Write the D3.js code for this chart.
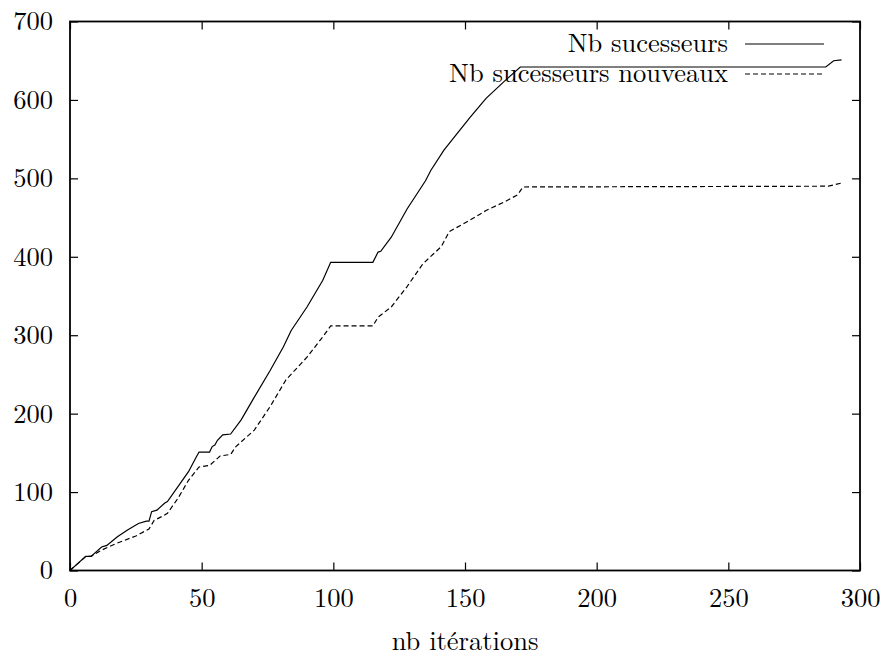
<!DOCTYPE html>
<html lang="fr">
<head>
<meta charset="utf-8">
<title>Nb sucesseurs</title>
<style>
body { margin: 0; background: #fff; }
.axis path.domain { display: none; }
.axis line { stroke: #000; stroke-width: 1.2; }
.frame { fill: none; stroke: #000; stroke-width: 1.8; }
.curve { fill: none; stroke: #000; stroke-width: 1.2; }
</style>
</head>
<body>
<script src="https://d3js.org/d3.v7.min.js"></script>
<script>
// series
var itersSucc = [0,6,8,12,14,18,22,26,29,30,31,33,36,37,41,45,48,49,53,54,55,56,58,61,65,70,76,81,84,90,96,99,115,117,118,122,128,135,137,142,146,152,158,165,171,287,290,293];
var nbSucc = [0,18,18,30,32,43,52,60,63,63,75,77,86,88,107,126,145,151,151,158,160,166,173,174,192,221,255,285,306,336,370,393,393,406,407,425,461,497,510,536,553,578,602,624,642,642,650,651];

var itersNew = [0,6,8,12,18,25,30,32,35,37,41,45,49,53,57,61,63,70,76,82,90,96,99,115,117,122,128,134,141,144,152,158,165,170,172,288,293];
var nbNew = [0,18,18,26,35,44,53,64,69,73,92,115,132,134,146,148,158,179,209,243,272,298,312,312,323,336,362,391,413,432,447,459,470,479,489,490,494];

var xTicks = [0,50,100,150,200,250,300];
var yTicks = [0,100,200,300,400,500,600,700];
var legendLabels = ["Nb sucesseurs", "Nb sucesseurs nouveaux"];
var xTitle = "nb itérations";

var W = 889, H = 660;
var FONT = "Latin Modern Roman";
var FS = 26.5;
var svg = d3.select("body").append("svg").attr("width", W).attr("height", H);

var x = d3.scaleLinear().domain([0, 300]).range([70, 860]);
var y = d3.scaleLinear().domain([0, 700]).range([570.5, 21.5]);

// axes, ticks pointing inward on all four sides
svg.append("g").attr("class", "axis")
    .attr("transform", "translate(0," + y(0) + ")")
    .call(d3.axisBottom(x).tickValues(xTicks).tickSize(-8).tickPadding(18));
svg.append("g").attr("class", "axis")
    .attr("transform", "translate(0," + y(700) + ")")
    .call(d3.axisTop(x).tickValues(xTicks).tickSize(-8).tickFormat(""));
svg.append("g").attr("class", "axis")
    .attr("transform", "translate(" + x(0) + ",0)")
    .call(d3.axisLeft(y).tickValues(yTicks).tickSize(-8).tickPadding(17));
svg.append("g").attr("class", "axis")
    .attr("transform", "translate(" + x(300) + ",0)")
    .call(d3.axisRight(y).tickValues(yTicks).tickSize(-8).tickFormat(""));

svg.selectAll(".axis").attr("font-family", FONT).attr("font-size", FS);
svg.selectAll(".axis text").attr("fill", "#000");

svg.append("rect").attr("class", "frame")
    .attr("x", x(0)).attr("y", y(700))
    .attr("width", x(300) - x(0)).attr("height", y(0) - y(700));

var line = d3.line()
    .x(function(d) { return x(d[0]); })
    .y(function(d) { return y(d[1]); });

svg.append("path").attr("class", "curve")
    .attr("d", line(d3.zip(itersSucc, nbSucc)));
svg.append("path").attr("class", "curve")
    .attr("stroke-dasharray", "5,3")
    .attr("d", line(d3.zip(itersNew, nbNew)));

// legend
var leg = svg.append("g").attr("font-family", FONT).attr("font-size", FS);
legendLabels.forEach(function(lab, i) {
    var yy = 44 + i * 30;
    leg.append("text").attr("x", 728).attr("y", yy + 8).attr("text-anchor", "end").text(lab);
    leg.append("line").attr("class", "curve")
        .attr("x1", 745).attr("x2", 824).attr("y1", yy).attr("y2", yy)
        .attr("stroke-dasharray", i ? "5,3" : null);
});

svg.append("text").attr("x", 465).attr("y", 650).attr("text-anchor", "middle")
    .attr("font-family", FONT).attr("font-size", FS).text(xTitle);
</script>
</body>
</html>
